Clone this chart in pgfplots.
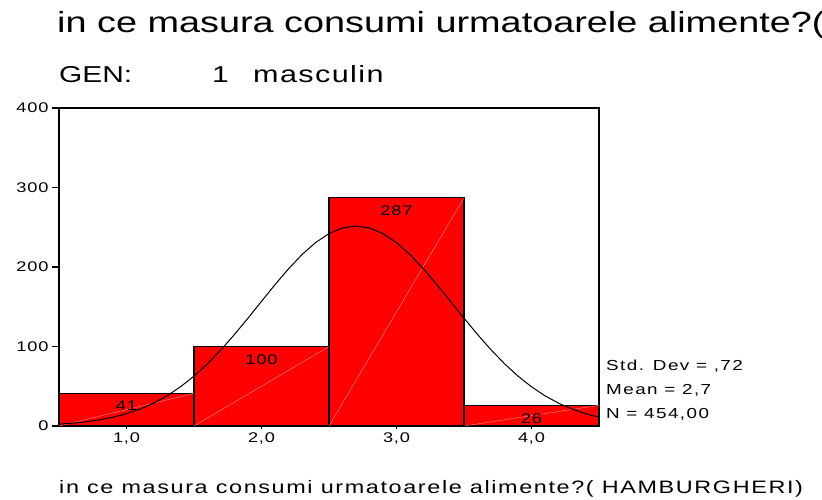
\documentclass[border=0pt]{standalone}
\usepackage{fontspec}
\setmainfont{Liberation Sans}[FakeStretch=1.3]
\newfontfamily\spaced{Liberation Sans}[FakeStretch=1.3,LetterSpace=6]
\newfontfamily\spacedb{Liberation Sans}[FakeStretch=1.3,LetterSpace=10]
\newfontfamily\spacedc{Liberation Sans}[FakeStretch=1.3,LetterSpace=9]
\usepackage{pgfplots}
\pgfplotsset{compat=1.18}
\begin{document}
\begin{tikzpicture}[x=1pt,y=1pt]
\useasboundingbox (0,0) rectangle (822,500);
\clip (0,0) rectangle (822,500);
\node[anchor=base west, inner sep=0, font=\fontsize{29.1}{30}\selectfont] at (57,467) {in ce masura consumi urmatoarele alimente?(};
\node[anchor=base west, inner sep=0, font=\fontsize{23}{24}\selectfont] at (59,417) {GEN:};
\node[anchor=base west, inner sep=0, font=\fontsize{23}{24}\selectfont] at (212,417) {1};
\node[anchor=base west, inner sep=0, font=\spaced\fontsize{23.5}{24}\selectfont] at (253,417) {masculin};
\begin{axis}[
  at={(59pt,74pt)}, anchor=south west,
  scale only axis, width=540pt, height=318pt,
  xmin=0.5, xmax=4.5, ymin=0, ymax=400,
  xtick=\empty,
  extra x ticks={1,2,3,4}, extra x tick labels={{1,0},{2,0},{3,0},{4,0}},
  extra x tick style={major tick length=3pt},
  ytick={0,100,200,300,400},
  tick align=outside, tick pos=left,
  major tick length=7pt,
  axis line style={line width=1.3pt},
  tick style={black, line width=1.2pt},
  /pgf/number format/assume math mode=true,
  ticklabel style={font=\spaced\fontsize{14}{14}\selectfont},
  clip=false,
]
\addplot[ybar, bar width=1, bar shift=0pt, fill=red, draw=black, line width=1.2pt,
  nodes near coords,
  every node near coord/.append style={anchor=north, yshift=-4pt, font=\spaced\fontsize{14}{14}\selectfont, text=black}]
  coordinates {(1,41) (2,100) (3,287) (4,26)};
\addplot[color=red!45!white, line width=0.4pt] coordinates {(0.5,0) (1.5,41)};
\addplot[color=red!45!white, line width=0.4pt] coordinates {(1.5,0) (2.5,100)};
\addplot[color=red!45!white, line width=0.4pt] coordinates {(2.5,0) (3.5,287)};
\addplot[color=red!45!white, line width=0.4pt] coordinates {(3.5,0) (4.5,26)};
\addplot[black, line width=1pt] coordinates {
(0.5,2.36) (0.6,3.58) (0.7,5.31) (0.8,7.73) (0.9,11.05) (1.0,15.49) (1.1,21.30) (1.2,28.73) (1.3,37.98) (1.4,49.29)
(1.5,62.72) (1.6,78.30) (1.7,95.88) (1.8,115.17) (1.9,135.69) (2.0,156.81) (2.1,177.76) (2.2,197.65) (2.3,215.58) (2.4,230.63)
(2.5,242.03) (2.6,249.14) (2.7,251.55) (2.8,249.14) (2.9,242.03) (3.0,230.63) (3.1,215.58) (3.2,197.65) (3.3,177.76) (3.4,156.81)
(3.5,135.69) (3.6,115.17) (3.7,95.88) (3.8,78.30) (3.9,62.72) (4.0,49.29) (4.1,37.98) (4.2,28.73) (4.3,21.30) (4.4,15.49) (4.5,11.05)};
\end{axis}
\node[anchor=base west, inner sep=0, font=\spacedb\fontsize{14.5}{15}\selectfont] at (606,129) {Std. Dev = ,72};
\node[anchor=base west, inner sep=0, font=\spacedb\fontsize{14.5}{15}\selectfont] at (606,105) {Mean = 2,7};
\node[anchor=base west, inner sep=0, font=\spacedb\fontsize{14.5}{15}\selectfont] at (606,81) {N = 454,00};
\node[anchor=base west, inner sep=0, font=\spacedc\fontsize{18}{18}\selectfont] at (59,6) {in ce masura consumi urmatoarele alimente?( HAMBURGHERI)};
\end{tikzpicture}
\end{document}
